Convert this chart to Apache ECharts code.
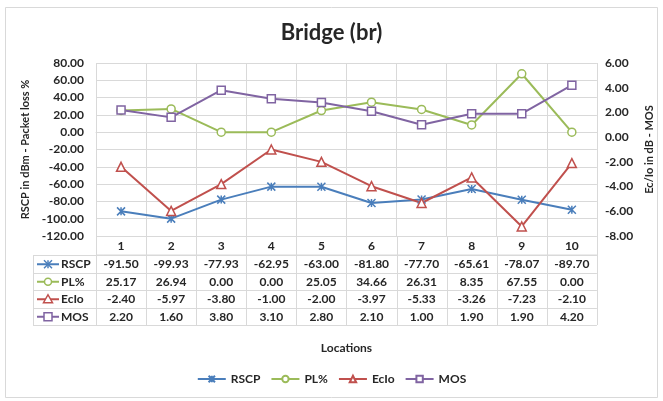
<!DOCTYPE html>
<html>
<head>
<meta charset="utf-8">
<script src="https://cdn.jsdelivr.net/npm/echarts@6/dist/echarts.min.js"></script>
<style>
  html, body { margin: 0; padding: 0; background: #ffffff; }
  #chart { width: 663px; height: 401px; }
</style>
</head>
<body>
<div id="chart"></div>
<script>
// Drive-test measurements per location
const locations = ['1', '2', '3', '4', '5', '6', '7', '8', '9', '10'];
const rscp  = [-91.50, -99.93, -77.93, -62.95, -63.00, -81.80, -77.70, -65.61, -78.07, -89.70];
const plPct = [25.17, 26.94, 0.00, 0.00, 25.05, 34.66, 26.31, 8.35, 67.55, 0.00];
const ecio  = [-2.40, -5.97, -3.80, -1.00, -2.00, -3.97, -5.33, -3.26, -7.23, -2.10];
const mos   = [2.20, 1.60, 3.80, 3.10, 2.80, 2.10, 1.00, 1.90, 1.90, 4.20];

const FONT = 'Lato, "Open Sans", sans-serif';
const TXT = '#262626';
const GRID = '#d9d9d9';
const STAR = 'path://M0,0L10,10M10,0L0,10M5,0L5,10';

const seriesDefs = [
  { name: 'RSCP', data: rscp,  axis: 0, color: '#4a7ebb', symbol: STAR,       size: 8, fill: '#4a7ebb' },
  { name: 'PL%',  data: plPct, axis: 0, color: '#9bbb59', symbol: 'circle',   size: 8, fill: '#ffffff' },
  { name: 'EcIo', data: ecio,  axis: 1, color: '#c0504d', symbol: 'triangle', size: 9, fill: '#ffffff' },
  { name: 'MOS',  data: mos,   axis: 1, color: '#8064a2', symbol: 'rect',     size: 8, fill: '#ffffff' }
];

const chart = echarts.init(document.getElementById('chart'), null, { renderer: 'canvas' });

const grid = { left: 96, right: 65, top: 63, bottom: 165 };

const option = {
  backgroundColor: '#ffffff',
  animation: false,
  textStyle: { fontFamily: FONT },
  title: {
    text: 'Bridge (br)',
    left: 'center',
    top: 17,
    textStyle: { fontFamily: FONT, fontSize: 22, fontWeight: 'bold', color: TXT }
  },
  grid: grid,
  legend: {
    bottom: 11,
    left: 'center',
    itemWidth: 28,
    itemHeight: 8,
    itemGap: 10,
    textStyle: { fontFamily: FONT, fontSize: 12, fontWeight: 'bold', color: TXT },
    data: seriesDefs.map(s => s.name)
  },
  xAxis: {
    type: 'category',
    data: locations,
    boundaryGap: true,
    axisLine: { show: true, lineStyle: { color: GRID } },
    axisTick: { show: false },
    axisLabel: { show: false },
    splitLine: { show: true, lineStyle: { color: GRID, width: 1 } },
    name: 'Locations',
    nameLocation: 'middle',
    nameGap: 106,
    nameTextStyle: { fontFamily: FONT, fontSize: 12, fontWeight: 'bold', color: TXT }
  },
  yAxis: [
    {
      type: 'value',
      min: -120, max: 80, interval: 20,
      axisLine: { show: false },
      axisTick: { show: false },
      axisLabel: {
        margin: 12,
        formatter: v => v.toFixed(2),
        fontFamily: FONT, fontSize: 12, fontWeight: 'bold', color: TXT
      },
      splitLine: { show: true, lineStyle: { color: GRID, width: 1 } },
      name: 'RSCP in dBm - Packet loss %',
      nameLocation: 'middle',
      nameRotate: 90,
      nameGap: 64,
      nameTextStyle: { fontFamily: FONT, fontSize: 11, fontWeight: 'bold', color: TXT }
    },
    {
      type: 'value',
      position: 'right',
      min: -8, max: 6, interval: 2,
      axisLine: { show: false },
      axisTick: { show: false },
      axisLabel: {
        margin: 8,
        formatter: v => v.toFixed(2),
        fontFamily: FONT, fontSize: 12, fontWeight: 'bold', color: TXT
      },
      splitLine: { show: false },
      name: 'Ec/Io in dB - MOS',
      nameLocation: 'middle',
      nameRotate: 90,
      nameGap: 44,
      nameTextStyle: { fontFamily: FONT, fontSize: 11, fontWeight: 'bold', color: TXT }
    }
  ],
  series: seriesDefs.map(s => ({
    name: s.name,
    type: 'line',
    yAxisIndex: s.axis,
    data: s.data,
    symbol: s.symbol,
    symbolSize: s.size,
    showAllSymbol: true,
    lineStyle: { color: s.color, width: 2 },
    itemStyle: { color: s.fill, borderColor: s.color, borderWidth: 1.5 },
    emphasis: { disabled: true }
  }))
};

chart.setOption(option);

// Data table under the plot, aligned with the category columns
function buildTable() {
  const els = [];
  const x0 = chart.convertToPixel({ xAxisIndex: 0 }, 0);
  const x1 = chart.convertToPixel({ xAxisIndex: 0 }, 1);
  const colW = x1 - x0;
  const left = x0 - colW / 2;
  const right = left + colW * locations.length;
  const top = chart.convertToPixel({ yAxisIndex: 0 }, -120);
  const keyLeft = 33;
  const headH = 19;
  const rowH = 17.5;
  const lineStyle = { stroke: GRID, lineWidth: 1 };
  const bottom = top + headH + rowH * seriesDefs.length;

  // chart frame
  els.push({ type: 'rect', shape: { x: 5.5, y: 7.5, width: 652, height: 390 },
             style: { fill: 'none', stroke: '#d9d9d9', lineWidth: 1 }, silent: true, z: 0 });

  // vertical rules of the value columns
  for (let i = 0; i <= locations.length; i++) {
    const x = Math.round(left + i * colW) + 0.5;
    els.push({ type: 'line', shape: { x1: x, y1: top, x2: x, y2: bottom }, style: lineStyle, silent: true });
  }
  // left rule of the key column
  els.push({ type: 'line', shape: { x1: keyLeft + 0.5, y1: top + headH, x2: keyLeft + 0.5, y2: bottom }, style: lineStyle, silent: true });
  // horizontal rules
  els.push({ type: 'line', shape: { x1: left, y1: top + headH, x2: right, y2: top + headH }, style: lineStyle, silent: true });
  for (let r = 0; r <= seriesDefs.length; r++) {
    const y = Math.round(top + headH + r * rowH) + 0.5;
    els.push({ type: 'line', shape: { x1: keyLeft, y1: y, x2: right, y2: y }, style: lineStyle, silent: true });
  }

  const textStyle = (t, x, y, align) => ({
    type: 'text', silent: true,
    style: { text: t, x: x, y: y, align: align || 'center', verticalAlign: 'middle',
             fontFamily: FONT, fontSize: 12, fontWeight: 'bold', fill: TXT }
  });

  // header row: location numbers
  locations.forEach((loc, i) => {
    els.push(textStyle(loc, chart.convertToPixel({ xAxisIndex: 0 }, i), top + headH / 2 + 1));
  });

  // series rows
  seriesDefs.forEach((s, r) => {
    const cy = top + headH + r * rowH + rowH / 2 + 0.5;
    // legend key: short line with marker
    els.push({ type: 'line', silent: true, shape: { x1: 37, y1: cy, x2: 59, y2: cy },
               style: { stroke: s.color, lineWidth: 2 } });
    const mx = 48;
    if (s.symbol === 'circle') {
      els.push({ type: 'circle', silent: true, shape: { cx: mx, cy: cy, r: 3.5 },
                 style: { fill: '#fff', stroke: s.color, lineWidth: 1.5 } });
    } else if (s.symbol === 'triangle') {
      els.push({ type: 'polygon', silent: true, shape: { points: [[mx, cy - 4.5], [mx + 4.5, cy + 3.5], [mx - 4.5, cy + 3.5]] },
                 style: { fill: '#fff', stroke: s.color, lineWidth: 1.5 } });
    } else if (s.symbol === 'rect') {
      els.push({ type: 'rect', silent: true, shape: { x: mx - 4, y: cy - 4, width: 8, height: 8 },
                 style: { fill: '#fff', stroke: s.color, lineWidth: 1.5 } });
    } else {
      els.push({ type: 'line', silent: true, shape: { x1: mx - 4, y1: cy - 4, x2: mx + 4, y2: cy + 4 }, style: { stroke: s.color, lineWidth: 1.5 } });
      els.push({ type: 'line', silent: true, shape: { x1: mx + 4, y1: cy - 4, x2: mx - 4, y2: cy + 4 }, style: { stroke: s.color, lineWidth: 1.5 } });
      els.push({ type: 'line', silent: true, shape: { x1: mx, y1: cy - 4, x2: mx, y2: cy + 4 }, style: { stroke: s.color, lineWidth: 1.5 } });
    }
    els.push(textStyle(s.name, 61, cy, 'left'));
    s.data.forEach((v, i) => {
      els.push(textStyle(v.toFixed(2), chart.convertToPixel({ xAxisIndex: 0 }, i), cy));
    });
  });

  chart.setOption({ graphic: els });
}

buildTable();
</script>
</body>
</html>
